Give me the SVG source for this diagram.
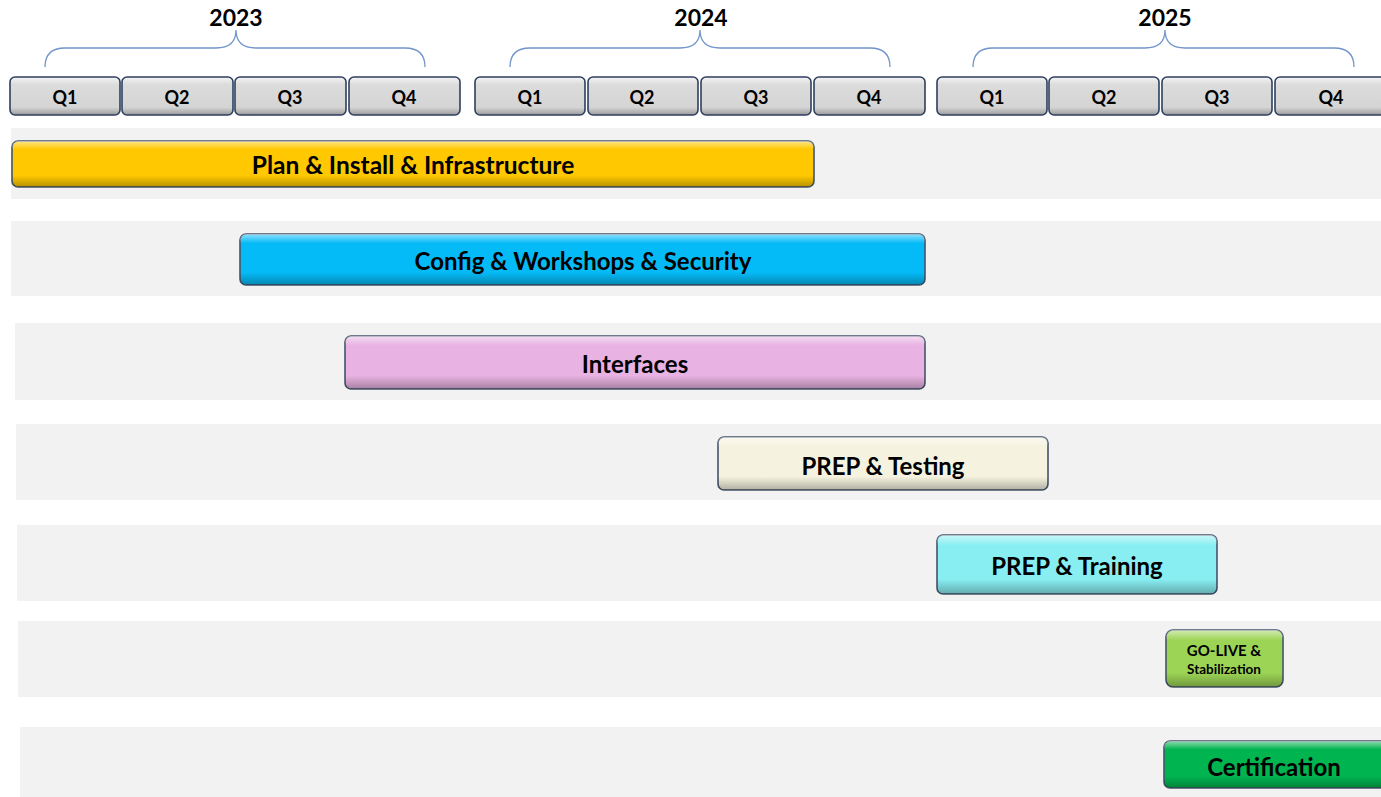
<svg xmlns="http://www.w3.org/2000/svg" width="1381" height="797" viewBox="0 0 1381 797">
<defs>
<linearGradient id="bevel" x1="0" y1="0" x2="0" y2="1">
<stop offset="0" stop-color="#ffffff" stop-opacity="0.55"/>
<stop offset="0.18" stop-color="#ffffff" stop-opacity="0"/>
<stop offset="0.75" stop-color="#000000" stop-opacity="0"/>
<stop offset="1" stop-color="#000000" stop-opacity="0.28"/>
</linearGradient>
<linearGradient id="qfill" x1="0" y1="0" x2="0" y2="1">
<stop offset="0" stop-color="#f4f4f4"/>
<stop offset="0.2" stop-color="#dcdcdc"/>
<stop offset="0.8" stop-color="#d4d4d4"/>
<stop offset="1" stop-color="#9a9a9a"/>
</linearGradient>
<style>
.band{fill:#f2f2f2}
.bar{stroke:#44546a;stroke-width:1.6}
.bev{fill:url(#bevel);stroke:none}
.q{fill:url(#qfill);stroke:#2f3f5f;stroke-width:1.6}
.t{font-family:Lato,"Liberation Sans",sans-serif;font-weight:bold;fill:#000;text-anchor:middle;dominant-baseline:central}
.brace{fill:none;stroke:#7094cc;stroke-width:1.3}
</style>
</defs>
<rect width="1381" height="797" fill="#ffffff"/>
<g id="bands">
<rect class="band" x="11" y="128" width="1370" height="71"/>
<rect class="band" x="11" y="221" width="1370" height="75"/>
<rect class="band" x="15" y="323" width="1366" height="77"/>
<rect class="band" x="16" y="424" width="1365" height="76"/>
<rect class="band" x="17" y="525" width="1364" height="76"/>
<rect class="band" x="18" y="621" width="1363" height="76"/>
<rect class="band" x="20" y="727" width="1361" height="70"/>
</g>
<g id="years">
<text class="t" x="236" y="17" font-size="23">2023</text>
<text class="t" x="701" y="17" font-size="23">2024</text>
<text class="t" x="1165" y="17" font-size="23">2025</text>
</g>
<g id="connectors">
<path class="brace" d="M45,67 Q45,48 65,48 L216,48 Q236,48 236,30 Q236,48 256,48 L405,48 Q425,48 425,67"/>
<path class="brace" d="M510,67 Q510,48 530,48 L680,48 Q700,48 700,30 Q700,48 720,48 L870,48 Q890,48 890,67"/>
<path class="brace" d="M973,67 Q973,48 993,48 L1145,48 Q1165,48 1165,30 Q1165,48 1185,48 L1334,48 Q1354,48 1354,67"/>
</g>
<g id="quarters">
<g><rect class="q" x="10" y="77" width="110" height="38" rx="5"/><text class="t" x="65" y="97" font-size="18">Q1</text></g>
<g><rect class="q" x="122" y="77" width="111" height="38" rx="5"/><text class="t" x="177" y="97" font-size="18">Q2</text></g>
<g><rect class="q" x="235" y="77" width="111" height="38" rx="5"/><text class="t" x="290" y="97" font-size="18">Q3</text></g>
<g><rect class="q" x="349" y="77" width="111" height="38" rx="5"/><text class="t" x="404" y="97" font-size="18">Q4</text></g>
<g><rect class="q" x="475" y="77" width="110" height="38" rx="5"/><text class="t" x="530" y="97" font-size="18">Q1</text></g>
<g><rect class="q" x="588" y="77" width="110" height="38" rx="5"/><text class="t" x="642" y="97" font-size="18">Q2</text></g>
<g><rect class="q" x="701" y="77" width="110" height="38" rx="5"/><text class="t" x="756" y="97" font-size="18">Q3</text></g>
<g><rect class="q" x="814" y="77" width="111" height="38" rx="5"/><text class="t" x="869" y="97" font-size="18">Q4</text></g>
<g><rect class="q" x="937" y="77" width="110" height="38" rx="5"/><text class="t" x="992" y="97" font-size="18">Q1</text></g>
<g><rect class="q" x="1049" y="77" width="110" height="38" rx="5"/><text class="t" x="1104" y="97" font-size="18">Q2</text></g>
<g><rect class="q" x="1162" y="77" width="110" height="38" rx="5"/><text class="t" x="1217" y="97" font-size="18">Q3</text></g>
<g><rect class="q" x="1275" y="77" width="112" height="38" rx="5"/><text class="t" x="1331" y="97" font-size="18">Q4</text></g>
</g>
<g id="plan">
<rect class="bar" x="12" y="141" width="802" height="46" rx="6" fill="#ffc800"/>
<rect class="bev" x="12" y="141" width="802" height="46" rx="6"/>
<text class="t" x="413" y="164" font-size="24.5">Plan &amp; Install &amp; Infrastructure</text>
</g>
<g id="config">
<rect class="bar" x="240" y="234" width="685" height="51" rx="6" fill="#05bbf7"/>
<rect class="bev" x="240" y="234" width="685" height="51" rx="6"/>
<text class="t" x="583" y="260" font-size="24">Config &amp; Workshops &amp; Security</text>
</g>
<g id="interfaces">
<rect class="bar" x="345" y="336" width="580" height="53" rx="6" fill="#e8b2e2"/>
<rect class="bev" x="345" y="336" width="580" height="53" rx="6"/>
<text class="t" x="635" y="363" font-size="24">Interfaces</text>
</g>
<g id="testing">
<rect class="bar" x="718" y="437" width="330" height="53" rx="6" fill="#f5f3df"/>
<rect class="bev" x="718" y="437" width="330" height="53" rx="6"/>
<text class="t" x="883" y="465" font-size="24">PREP &amp; Testing</text>
</g>
<g id="training">
<rect class="bar" x="937" y="535" width="280" height="59" rx="6" fill="#88eef2"/>
<rect class="bev" x="937" y="535" width="280" height="59" rx="6"/>
<text class="t" x="1077" y="565" font-size="24">PREP &amp; Training</text>
</g>
<g id="golive">
<rect class="bar" x="1166" y="630" width="117" height="57" rx="7" fill="#9cd455"/>
<rect class="bev" x="1166" y="630" width="117" height="57" rx="7"/>
<text class="t" x="1224" y="650" font-size="15">GO-LIVE &amp;</text>
<text class="t" x="1224" y="669" font-size="13.5">Stabilization</text>
</g>
<g id="certification">
<rect class="bar" x="1164" y="741" width="225" height="47" rx="6" fill="#00b450"/>
<rect class="bev" x="1164" y="741" width="225" height="47" rx="6"/>
<text class="t" x="1274" y="766" font-size="24">Certification</text>
</g>
</svg>
